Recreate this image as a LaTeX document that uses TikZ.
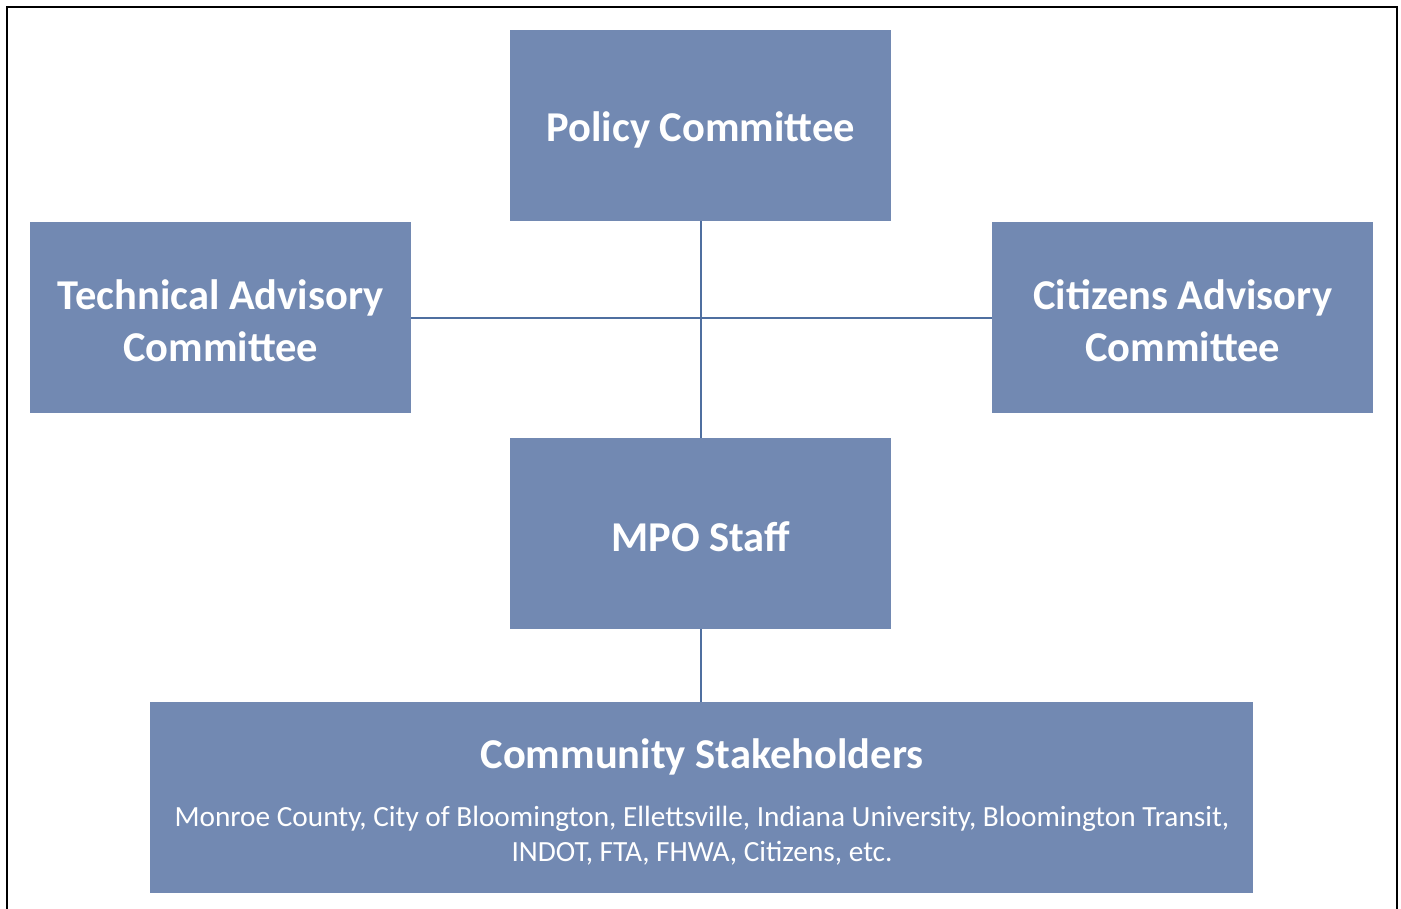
\documentclass[tikz,border=0pt]{standalone}
\usepackage{fontspec}
\setmainfont{Carlito}
\definecolor{boxfill}{RGB}{114,137,178}
\definecolor{linecol}{RGB}{79,111,160}
\tikzset{
  orgbox/.style={fill=boxfill, draw=none, minimum width=381pt, minimum height=191pt, inner sep=0pt, anchor=north west},
  boxtext/.style={text=white, font=\fontsize{42.5}{52}\selectfont\bfseries, align=center, inner sep=0pt},
  conn/.style={draw=linecol, line width=2pt},
  frame/.style={draw=black, line width=2pt}
}
\begin{document}
\begin{tikzpicture}[x=1pt,y=-1pt]
\useasboundingbox (0,0) rectangle (1401,909);
\draw[frame] (7,912) -- (7,7) -- (1397,7) -- (1397,912);
\node[orgbox] (policy) at (510,30) {};
\node[orgbox] (tac) at (30,222) {};
\node[orgbox] (cac) at (992,222) {};
\node[orgbox] (mpo) at (510,438) {};
\node[orgbox, minimum width=1103pt] (comm) at (150,702) {};
\node[boxtext] (policyt) at ([yshift=-4pt]policy.center) {Policy Committee};
\node[boxtext] (tact) at ([yshift=-3pt]tac.center) {Technical Advisory\\Committee};
\node[boxtext] (cact) at ([yshift=-3pt]cac.center) {Citizens Advisory\\Committee};
\node[boxtext] (mpot) at ([yshift=-3pt]mpo.center) {MPO Staff};
\node[boxtext] (commtitle) at (702,757) {Community Stakeholders};
\node[text=white, font=\fontsize{29.3}{35}\selectfont, align=center] (commtext) at (702,836) {Monroe County, City of Bloomington, Ellettsville, Indiana University, Bloomington Transit,\\INDOT, FTA, FHWA, Citizens, etc.};
\draw[conn] (policy.south) -- (mpo.north);
\draw[conn] (tac.east) -- (cac.west);
\draw[conn] (mpo.south) -- (comm.north -| mpo.south);
\end{tikzpicture}
\end{document}
